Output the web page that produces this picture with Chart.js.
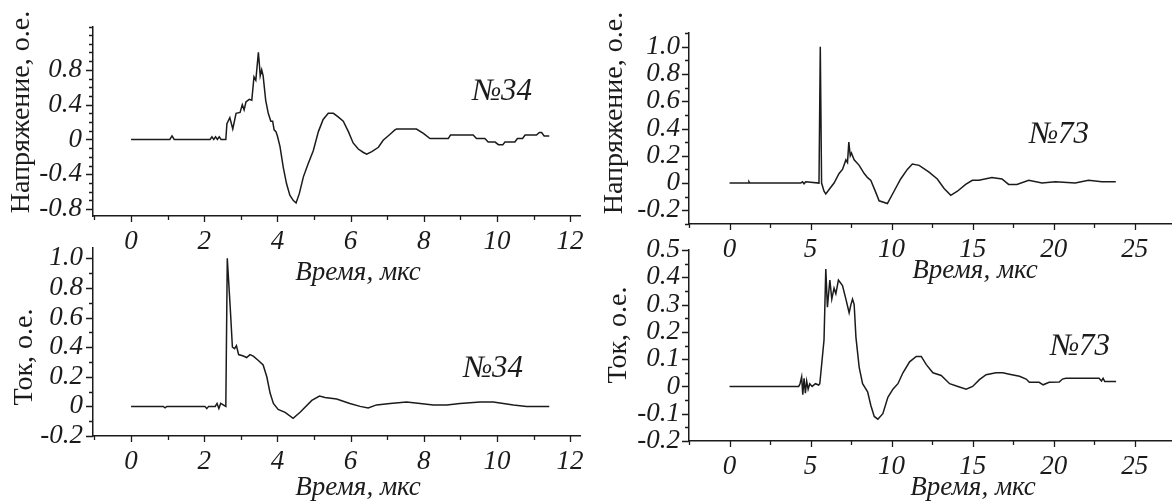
<!DOCTYPE html>
<html>
<head>
<meta charset="utf-8">
<script src="https://cdn.jsdelivr.net/npm/chart.js@4.4.1/dist/chart.umd.min.js"></script>
<style>
  html, body { margin: 0; padding: 0; background: #ffffff; }
  #wrap { position: relative; width: 1172px; height: 504px; overflow: hidden; background: #fff; }
  #wrap canvas { position: absolute; left: 0; top: 0; }
</style>
</head>
<body>
<div id="wrap">
  <canvas id="c1" width="1172" height="504"></canvas>
  <canvas id="c2" width="1172" height="504"></canvas>
  <canvas id="c3" width="1172" height="504"></canvas>
  <canvas id="c4" width="1172" height="504"></canvas>
</div>
<script>
// ---------- data: sample №34 (time in µs) ----------
const time34U = [0,1.06,1.12,1.18,2.16,2.21,2.26,2.31,2.36,2.41,2.46,2.59,2.62,2.70,2.78,2.87,2.98,3.04,3.09,3.14,3.23,3.30,3.36,3.41,3.48,3.51,3.53,3.57,3.61,3.68,3.75,3.82,3.87,3.91,3.96,4.00,4.07,4.16,4.25,4.34,4.43,4.51,4.60,4.71,4.84,4.98,5.12,5.25,5.39,5.53,5.66,5.80,5.94,6.07,6.21,6.35,6.44,6.58,6.76,6.89,7.08,7.21,7.26,7.80,7.99,8.17,8.67,8.73,9.35,9.44,9.67,9.76,9.95,10.04,10.16,10.22,10.49,10.56,10.70,10.77,11.08,11.16,11.22,11.29,11.43];
const voltage34 = [0,0,0.04,0,0,0.03,0,0.03,0,0.03,0,0,0.18,0.25,0.12,0.30,0.31,0.40,0.34,0.43,0.46,0.45,0.72,0.68,1.00,0.85,0.73,0.80,0.73,0.45,0.30,0.21,0.21,0.11,0.09,0.04,-0.08,-0.32,-0.51,-0.64,-0.70,-0.73,-0.62,-0.43,-0.28,-0.13,0.09,0.23,0.30,0.30,0.26,0.21,0.09,-0.04,-0.11,-0.15,-0.17,-0.14,-0.09,-0.01,0.06,0.11,0.12,0.12,0.07,0.01,0.01,0.05,0.05,0.01,0.01,-0.03,-0.03,-0.06,-0.06,-0.03,-0.03,0.01,0.01,0.05,0.05,0.08,0.08,0.04,0.04];

const time34I = [0,0.88,0.93,0.98,2.02,2.07,2.12,2.30,2.35,2.40,2.45,2.59,2.63,2.71,2.77,2.83,2.88,2.94,3.07,3.16,3.25,3.34,3.48,3.61,3.71,3.80,3.89,4.02,4.21,4.43,4.62,4.94,5.15,5.30,5.62,5.98,6.26,6.48,6.71,7.08,7.53,7.90,8.26,8.63,8.99,9.54,9.90,10.45,10.81,11.43];
const current34 = [0,0,-0.01,0,0,-0.015,0,0,0.02,-0.015,0.02,0,1.00,0.67,0.40,0.39,0.41,0.35,0.34,0.33,0.35,0.34,0.31,0.28,0.20,0.09,0.02,-0.02,-0.04,-0.08,-0.04,0.04,0.07,0.06,0.05,0.02,0,-0.01,0.01,0.02,0.03,0.02,0.01,0.01,0.02,0.03,0.03,0.01,0,0];

// ---------- data: sample №73 ----------
const time73U = [0,1.15,1.2,1.25,4.4,4.5,4.6,4.7,5.52,5.6,5.68,5.83,5.94,6.19,6.45,6.76,6.97,7.18,7.28,7.36,7.45,7.52,7.69,8.00,8.31,8.52,8.72,9.03,9.23,9.74,10.15,10.56,10.97,11.28,11.70,12.31,12.82,13.24,13.65,14.06,14.57,14.98,15.39,16.19,16.81,17.22,17.73,18.46,19.28,20.10,21.33,22.15,22.97,23.83];
const voltage73 = [0,0,0.01,0,0,0.01,-0.005,0.01,0,1.00,0,-0.06,-0.08,-0.04,0.0,0.07,0.10,0.17,0.15,0.30,0.20,0.22,0.17,0.13,0.07,0.04,0.02,-0.07,-0.13,-0.15,-0.06,0.03,0.10,0.14,0.13,0.08,0.03,-0.04,-0.09,-0.06,-0.01,0.02,0.02,0.04,0.03,-0.01,-0.01,0.02,0.0,0.01,0.0,0.02,0.01,0.01];

const time73I = [0,4.27,4.35,4.45,4.52,4.6,4.68,4.76,4.85,4.95,5.1,5.3,5.5,5.57,5.83,5.94,6.04,6.19,6.31,6.45,6.56,6.72,6.97,7.18,7.38,7.49,7.59,7.69,7.80,8.00,8.21,8.52,8.72,8.93,9.15,9.46,9.77,10.08,10.39,10.70,11.11,11.52,11.83,12.14,12.55,13.06,13.58,14.09,14.60,15.00,15.42,15.83,16.44,16.86,17.27,17.89,18.30,18.50,19.10,19.35,19.72,20.34,20.54,20.75,22.80,22.95,23.05,23.15,23.40,23.85];
const current73 = [0,0,0.01,0.035,-0.03,0.03,-0.025,0.02,-0.01,0.01,0,0.01,0.005,0.01,0.17,0.43,0.29,0.39,0.32,0.36,0.34,0.39,0.37,0.32,0.27,0.30,0.32,0.30,0.18,0.07,0.01,-0.02,-0.07,-0.11,-0.12,-0.10,-0.04,-0.01,0.01,0.05,0.09,0.11,0.11,0.08,0.05,0.04,0.01,0.0,-0.01,0.0,0.025,0.043,0.05,0.05,0.045,0.037,0.027,0.015,0.015,0.006,0.015,0.016,0.027,0.03,0.03,0.02,0.03,0.018,0.018,0.018];

// ---------- tick values ----------
const xTicks34 = [0,2,4,6,8,10,12];
const xMinor34 = [-1,1,3,5,7,9,11];
const xTicks73 = [0,5,10,15,20,25];
const xMinor73 = [-2.5,2.5,7.5,12.5,17.5,22.5];
const yTicksU34 = [-0.8,-0.4,0,0.4,0.8];
const yMinorU34 = [-0.7,-0.6,-0.5,-0.3,-0.2,-0.1,0.1,0.2,0.3,0.5,0.6,0.7,0.9,1.0,1.1,1.2,1.3];
const yTicksI34 = [-0.2,0,0.2,0.4,0.6,0.8,1.0];
const yMinorI34 = [-0.1,0.1,0.3,0.5,0.7,0.9];
const yTicksU73 = [-0.2,0,0.2,0.4,0.6,0.8,1.0];
const yMinorU73 = [-0.3,-0.1,0.1,0.3,0.5,0.7,0.9,1.1];
const yTicksI73 = [-0.2,-0.1,0,0.1,0.2,0.3,0.4,0.5];
const yMinorI73 = [-0.15,-0.05,0.05,0.15,0.25,0.35,0.45];

// ---------- texts ----------
const labelVoltage = 'Напряжение, о.е.';
const labelCurrent = 'Ток, о.е.';
const labelTime = 'Время, мкс';
const tag34 = '№34';
const tag73 = '№73';

const INK = '#1b1b1b';
const SERIF = '"Liberation Serif", "Times New Roman", serif';

function fmtY(v) {
  const r = Math.round(v * 100) / 100;
  if (Math.abs(r) < 1e-9) return '0';
  return r.toFixed(1);
}
function fmtX(v) {
  return String(Math.round(v));
}

const decor = {
  id: 'decor',
  afterDraw(chart, args, o) {
    const ctx = chart.ctx;
    const xs = chart.scales.x, ys = chart.scales.y;
    const a = chart.chartArea;
    ctx.save();
    ctx.strokeStyle = INK;
    ctx.lineWidth = 1.3;
    ctx.beginPath();
    const xt = (list, len) => list.forEach(v => {
      if (v < xs.min - 1e-6 || v > xs.max + 1e-6) return;
      const p = Math.round(xs.getPixelForValue(v)) + 0.5;
      ctx.moveTo(p, a.bottom); ctx.lineTo(p, a.bottom + len);
    });
    const yt = (list, len) => list.forEach(v => {
      if (v < ys.min - 0.02 || v > ys.max + 0.02) return;
      const p = Math.round(ys.getPixelForValue(Math.min(Math.max(v, ys.min), ys.max))) + 0.5;
      ctx.moveTo(a.left, p); ctx.lineTo(a.left - len, p);
    });
    xt(o.xMajor, 6); xt(o.xMinor, 4);
    yt(o.yMajor, 7); yt(o.yMinor, 4);
    ctx.stroke();

    ctx.fillStyle = INK;
    (o.texts || []).forEach(t => {
      ctx.save();
      ctx.font = t.font;
      ctx.textAlign = 'center';
      ctx.textBaseline = t.rot ? 'middle' : 'alphabetic';
      ctx.translate(t.x, t.y);
      if (t.rot) ctx.rotate(t.rot);
      ctx.fillText(t.text, 0, 0);
      ctx.restore();
    });
    ctx.restore();
  }
};

function makeChart(id, cfg) {
  const pts = cfg.t.map((t, i) => ({ x: t, y: cfg.v[i] }));
  return new Chart(document.getElementById(id), {
    type: 'line',
    data: { datasets: [{ data: pts, borderColor: INK, borderWidth: 1.5, pointRadius: 0, tension: 0, fill: false }] },
    plugins: [decor],
    options: {
      responsive: false,
      animation: false,
      events: [],
      layout: { padding: cfg.pad },
      plugins: {
        legend: { display: false },
        tooltip: { enabled: false },
        decor: { xMajor: cfg.xMajor, xMinor: cfg.xMinor, yMajor: cfg.yMajor, yMinor: cfg.yMinor, texts: cfg.texts }
      },
      scales: {
        x: {
          type: 'linear', min: cfg.xMin, max: cfg.xMax,
          afterBuildTicks: s => { s.ticks = cfg.xMajor.map(v => ({ value: v })); },
          afterFit: s => { s.height = 40; },
          grid: { display: false, drawTicks: false },
          border: { display: true, color: INK, width: 1.5 },
          ticks: { autoSkip: false, maxRotation: 0, padding: 10, color: INK,
                   font: { family: SERIF, size: 27, style: 'italic' }, callback: v => fmtX(v) }
        },
        y: {
          type: 'linear', min: cfg.yMin, max: cfg.yMax,
          afterBuildTicks: s => { s.ticks = cfg.yMajor.map(v => ({ value: v })); },
          afterFit: s => { s.width = cfg.yw; },
          grid: { display: false, drawTicks: false },
          border: { display: true, color: INK, width: 1.5 },
          ticks: { autoSkip: false, padding: cfg.ypad, color: INK,
                   font: { family: SERIF, size: 27, style: 'italic' }, callback: v => fmtY(v) }
        }
      }
    }
  });
}

const tagFont = 'italic 31px ' + SERIF;
const timeFont = 'italic 27px ' + SERIF;
const yFont = '28px ' + SERIF;
const ROT = -Math.PI / 2;

makeChart('c1', {
  t: time34U, v: voltage34, xMin: -1.04, xMax: 12.27, yMin: -0.88, yMax: 1.29,
  xMajor: xTicks34, xMinor: xMinor34, yMajor: yTicksU34, yMinor: yMinorU34,
  yw: 93, ypad: 11, pad: { left: 0, top: 24, right: 592, bottom: 248 },
  texts: [
    { text: tag34, x: 502, y: 100, font: tagFont },
    { text: labelTime, x: 358, y: 280, font: timeFont },
    { text: labelVoltage, x: 22, y: 112, font: yFont, rot: ROT }
  ]
});
makeChart('c2', {
  t: time34I, v: current34, xMin: -1.04, xMax: 12.27, yMin: -0.2, yMax: 1.07,
  xMajor: xTicks34, xMinor: xMinor34, yMajor: yTicksI34, yMinor: yMinorI34,
  yw: 93, ypad: 10, pad: { left: 0, top: 248, right: 592, bottom: 28 },
  texts: [
    { text: tag34, x: 493, y: 377, font: tagFont },
    { text: labelTime, x: 358, y: 495, font: timeFont },
    { text: labelCurrent, x: 25, y: 357, font: yFont, rot: ROT }
  ]
});
makeChart('c3', {
  t: time73U, v: voltage73, xMin: -2.5, xMax: 27.3, yMin: -0.3, yMax: 1.1,
  xMajor: xTicks73, xMinor: xMinor73, yMajor: yTicksU73, yMinor: yMinorU73,
  yw: 100, ypad: 9, pad: { left: 589, top: 33, right: 0, bottom: 240 },
  texts: [
    { text: tag73, x: 1059, y: 143, font: tagFont },
    { text: labelTime, x: 975, y: 278, font: timeFont },
    { text: labelVoltage, x: 615, y: 113, font: yFont, rot: ROT }
  ]
});
makeChart('c4', {
  t: time73I, v: current73, xMin: -2.5, xMax: 27.3, yMin: -0.2, yMax: 0.5,
  xMajor: xTicks73, xMinor: xMinor73, yMajor: yTicksI73, yMinor: yMinorI73,
  yw: 100, ypad: 9, pad: { left: 589, top: 250, right: 0, bottom: 23 },
  texts: [
    { text: tag73, x: 1080, y: 355, font: tagFont },
    { text: labelTime, x: 973, y: 495, font: timeFont },
    { text: labelCurrent, x: 619, y: 335, font: yFont, rot: ROT }
  ]
});
</script>
</body>
</html>
